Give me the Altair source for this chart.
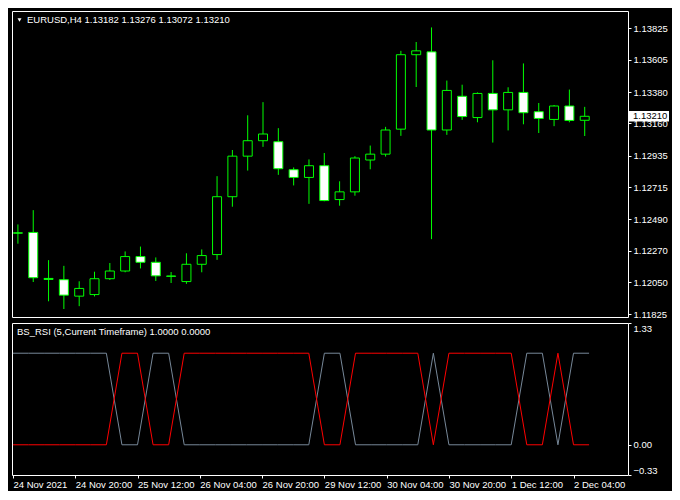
import altair as alt
import pandas as pd

# ---------------- data ----------------
symbol = "EURUSD,H4"
indicator_title = "BS_RSI (5,Current Timeframe) 1.0000 0.0000"

opens = [1.12394, 1.12397, 1.12075, 1.12066, 1.11951, 1.11962, 1.12073, 1.12127,
         1.12228, 1.12188, 1.12092, 1.12053, 1.12174, 1.12242, 1.12647, 1.12931,
         1.13039, 1.13032, 1.12836, 1.12782, 1.12864, 1.12627, 1.12681, 1.12904,
         1.12945, 1.13120, 1.13641, 1.13661, 1.13114, 1.13350, 1.13201, 1.13370,
         1.13255, 1.13377, 1.13242, 1.13188, 1.13282, 1.13182]
highs = [1.12453, 1.12553, 1.12203, 1.12163, 1.12055, 1.12122, 1.12183, 1.12264,
         1.12298, 1.12222, 1.12120, 1.12251, 1.12278, 1.12791, 1.12974, 1.13217,
         1.13309, 1.13127, 1.12852, 1.12908, 1.12953, 1.12755, 1.12931, 1.13005,
         1.13136, 1.13668, 1.13730, 1.13832, 1.13460, 1.13431, 1.13377, 1.13602,
         1.13413, 1.13580, 1.13303, 1.13289, 1.13397, 1.13276]
lows = [1.12318, 1.12050, 1.11915, 1.11861, 1.11881, 1.11949, 1.12064, 1.12118,
        1.12145, 1.12057, 1.12043, 1.12037, 1.12118, 1.12205, 1.12577, 1.12830,
        1.12996, 1.12800, 1.12726, 1.12597, 1.12615, 1.12584, 1.12654, 1.12839,
        1.12928, 1.13073, 1.13415, 1.12350, 1.13080, 1.13185, 1.13168, 1.13026,
        1.13111, 1.13154, 1.13093, 1.13141, 1.13168, 1.13072]
closes = [1.12392, 1.12080, 1.12068, 1.11958, 1.12005, 1.12073, 1.12127, 1.12228,
          1.12188, 1.12093, 1.12090, 1.12174, 1.12235, 1.12647, 1.12931, 1.13039,
          1.13086, 1.12843, 1.12782, 1.12864, 1.12620, 1.12681, 1.12918, 1.12945,
          1.13114, 1.13641, 1.13668, 1.13114, 1.13391, 1.13208, 1.13370, 1.13255,
          1.13377, 1.13235, 1.13195, 1.13282, 1.13181, 1.13210]

gray_buffer = [1, 1, 1, 1, 1, 1, 1, 0, 0, 1, 1, 0, 0, 0, 0, 0, 0, 0, 0, 0,
               1, 1, 0, 0, 0, 0, 0, 1, 0, 0, 0, 0, 0, 1, 1, 0, 1, 1]
red_buffer = [0, 0, 0, 0, 0, 0, 0, 1, 1, 0, 0, 1, 1, 1, 1, 1, 1, 1, 1, 1,
              0, 0, 1, 1, 1, 1, 1, 0, 1, 1, 1, 1, 1, 0, 0, 1, 0, 0]

price_ticks = [1.11825, 1.12050, 1.12270, 1.12490, 1.12715,
               1.12935, 1.13160, 1.13380, 1.13605, 1.13825]
ind_ticks = [-0.33, 0.0, 1.33]
date_tick_pos = [0, 4, 8, 12, 16, 20, 24, 28, 32, 36]
date_tick_labels = ["24 Nov 2021", "24 Nov 20:00", "25 Nov 12:00", "26 Nov 04:00",
                    "26 Nov 20:00", "29 Nov 12:00", "30 Nov 04:00", "30 Nov 20:00",
                    "1 Dec 12:00", "2 Dec 04:00"]

# ---------------- layout / style ----------------
W, H1, H2 = 616, 306, 152
FONT = "Liberation Sans"
FS = 9.5
GREEN = "#00FF00"
x_dom = [-0.06, 39.5]
y_dom = [1.11805, 1.13947]

n = len(opens)
df = pd.DataFrame({"i": list(range(n)), "open": opens, "high": highs,
                   "low": lows, "close": closes})
df["dir"] = ["bull" if c >= o else "bear" for o, c in zip(opens, closes)]

xs = alt.Scale(domain=x_dom, nice=False, zero=False)
ys = alt.Scale(domain=y_dom, nice=False, zero=False)

y_axis = alt.Axis(orient="right", values=price_ticks, format=".5f", tickSize=3,
                  tickColor="white", labelColor="white", labelFont=FONT,
                  labelFontSize=FS, labelPadding=2, labelOverlap=False,
                  labelBound=False, domain=False, grid=False, title=None)

base = alt.Chart(df)
wicks = base.mark_rule(color=GREEN, strokeWidth=1, clip=True).encode(
    x=alt.X("i:Q", scale=xs, axis=None),
    y=alt.Y("low:Q", scale=ys, axis=y_axis),
    y2="high:Q",
)
bodies = base.mark_bar(size=9, stroke=GREEN, strokeWidth=1, clip=True).encode(
    x=alt.X("i:Q", scale=xs, axis=None),
    y=alt.Y("open:Q", scale=ys, axis=y_axis),
    y2="close:Q",
    fill=alt.Fill("dir:N", scale=alt.Scale(domain=["bull", "bear"],
                                           range=["#000000", "#FFFFFF"]),
                  legend=None),
)

title_txt = f"{symbol}  {opens[-1]:.5f} {highs[-1]:.5f} {lows[-1]:.5f} {closes[-1]:.5f}"
title_mark = alt.Chart(pd.DataFrame({"t": [title_txt]})).mark_text(
    align="left", baseline="middle", color="white", font=FONT, fontSize=FS
).encode(x=alt.value(15), y=alt.value(9), text="t:N")
tri = alt.Chart(pd.DataFrame({"a": [0]})).mark_point(
    shape="triangle-down", filled=True, color="white", size=16, opacity=1
).encode(x=alt.value(7.5), y=alt.value(9))

last = pd.DataFrame({"p": [closes[-1]], "lo": [closes[-1] - 0.00037],
                     "hi": [closes[-1] + 0.00037], "lab": [f"{closes[-1]:.5f}"]})
pbox = alt.Chart(last).mark_rect(color="white").encode(
    x=alt.value(W + 1), x2=alt.value(W + 41),
    y=alt.Y("lo:Q", scale=ys, axis=y_axis), y2="hi:Q")
ptxt = alt.Chart(last).mark_text(
    align="left", baseline="middle", color="black", font=FONT, fontSize=FS
).encode(x=alt.value(W + 5), y=alt.Y("p:Q", scale=ys, axis=y_axis), text="lab:N")

main = alt.layer(wicks, bodies, title_mark, tri, pbox, ptxt).properties(
    width=W, height=H1)

# ---------------- indicator ----------------
ind = pd.DataFrame({"i": list(range(n)), "g": gray_buffer, "r": red_buffer})
label_expr = "[" + ",".join(f"'{s}'" for s in date_tick_labels) + "][round(datum.value/4)]"
x_axis = alt.Axis(values=date_tick_pos, labelExpr=label_expr, tickSize=3,
                  tickColor="white", labelColor="white", labelFont=FONT,
                  labelFontSize=FS, labelAlign="left", labelBaseline="top",
                  labelPadding=1, labelOverlap=False, labelBound=False,
                  labelFlush=False, domain=False, grid=False, title=None)
iys = alt.Scale(domain=[-0.33, 1.33], nice=False, zero=False)
iy_axis = alt.Axis(orient="right", values=ind_ticks, format=".2f", tickSize=3,
                   tickColor="white", labelColor="white", labelFont=FONT,
                   labelFontSize=FS, labelPadding=2, labelFlush=True,
                   labelOverlap=False, domain=False, grid=False, title=None)

ibase = alt.Chart(ind)
gline = ibase.mark_line(color="#778899", strokeWidth=1).encode(
    x=alt.X("i:Q", scale=xs, axis=x_axis),
    y=alt.Y("g:Q", scale=iys, axis=iy_axis))
rline = ibase.mark_line(color="#FF0000", strokeWidth=1).encode(
    x=alt.X("i:Q", scale=xs, axis=x_axis),
    y=alt.Y("r:Q", scale=iys, axis=iy_axis))
ititle = alt.Chart(pd.DataFrame({"t": [indicator_title]})).mark_text(
    align="left", baseline="middle", color="white", font=FONT, fontSize=FS
).encode(x=alt.value(5), y=alt.value(9), text="t:N")

indicator = alt.layer(gline, rline, ititle).properties(width=W, height=H2)

chart = alt.vconcat(main, indicator, spacing=2).properties(
    padding={"left": 2, "top": 2, "right": 2, "bottom": 2}
).configure(background="black").configure_view(
    stroke="white", strokeWidth=1
).configure_axis(labelOverlap=False)

chart.save("out.html", embed_options={"renderer": "svg", "actions": False})
